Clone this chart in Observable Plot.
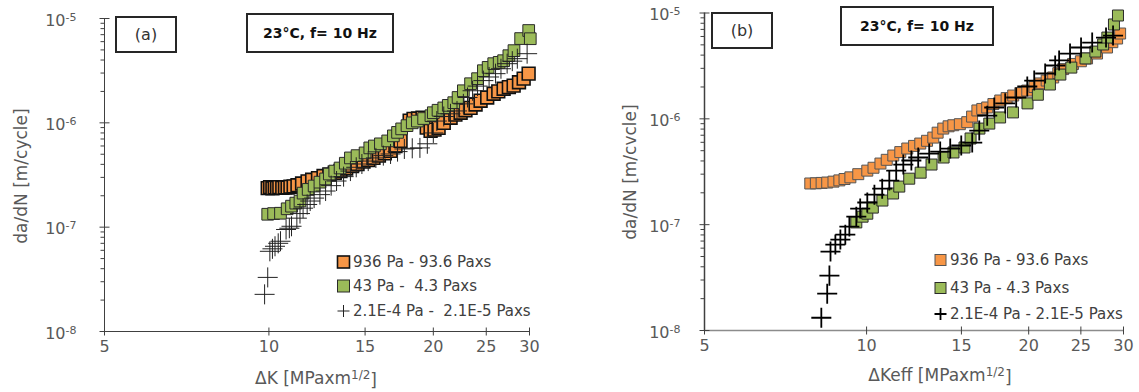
<!DOCTYPE html>
<html><head><meta charset="utf-8">
<script src="https://cdn.jsdelivr.net/npm/d3@7"></script>
<script src="https://cdn.jsdelivr.net/npm/@observablehq/plot@0.6"></script>
<style>
body{margin:0;background:#fff;}
#wrap{display:flex;width:1139px;height:392px;overflow:hidden;}
#wrap svg{overflow:visible;}
</style></head><body><div id="wrap"></div>
<script>
// ---------- axis ticks ----------
const xTicks = [5, 10, 15, 20, 25, 30];
const yExp = [-8, -7, -6, -5];
const yMajor = [1e-8, 1e-7, 1e-6, 1e-5];
const yMinor = [-8, -7, -6].flatMap(e => [2,3,4,5,6,7,8,9].map(m => m * Math.pow(10, e)));

// ---------- legend ----------
const seriesNamesA = ["936 Pa - 93.6 Paxs", "43 Pa -  4.3 Paxs", "2.1E-4 Pa -  2.1E-5 Paxs"];
const seriesNamesB = ["936 Pa - 93.6 Paxs", "43 Pa - 4.3 Paxs", "2.1E-4 Pa - 2.1E-5 Paxs"];
const ORANGE = "#F79646", GREEN = "#9BBB59";

// ---------- panel (a): da/dN vs ΔK ----------
const aOrangeK = [9.95,10.05,10.15,10.25,10.35,10.45,10.58,10.70,10.82,10.95,11.10,11.28,11.50,11.77,12.00,12.30,12.59,12.90,13.20,13.52,13.85,14.20,14.53,14.90,15.20,15.54,15.90,16.30,16.70,17.05,17.42,18.10,18.40,18.75,19.11,19.45,19.77,20.10,20.45,20.90,21.51,21.95,22.44,22.90,23.40,23.90,24.41,25.10,25.79,26.30,26.90,27.50,28.06,28.70,29.27,29.89];
const aOrangeV = [2.37e-7,2.42e-7,2.36e-7,2.40e-7,2.38e-7,2.42e-7,2.38e-7,2.41e-7,2.40e-7,2.44e-7,2.46e-7,2.52e-7,2.62e-7,2.75e-7,2.85e-7,2.95e-7,3.09e-7,3.20e-7,3.32e-7,3.45e-7,3.65e-7,3.85e-7,4.03e-7,4.25e-7,4.40e-7,4.61e-7,4.85e-7,5.10e-7,5.38e-7,6.00e-7,6.71e-7,1.05e-6,1.09e-6,1.10e-6,1.12e-6,9.0e-7,8.37e-7,8.60e-7,8.95e-7,1.0e-6,1.12e-6,1.20e-6,1.25e-6,1.32e-6,1.39e-6,1.50e-6,1.63e-6,1.75e-6,1.90e-6,2.00e-6,2.12e-6,2.20e-6,2.27e-6,2.45e-6,2.65e-6,2.96e-6];
const aGreenK = [9.95,10.20,10.50,10.80,11.00,11.20,11.40,11.55,11.80,12.10,12.40,12.70,12.90,13.20,13.50,13.80,14.10,14.50,15.00,15.30,15.60,16.00,16.50,16.90,17.20,17.50,17.90,18.30,18.70,19.20,19.80,20.00,20.40,20.90,21.30,21.80,22.20,22.70,23.40,24.10,24.70,25.20,25.80,26.40,26.90,27.50,28.10,28.90,29.90,30.10];
const aGreenV = [1.33e-7,1.35e-7,1.36e-7,1.50e-7,1.59e-7,1.70e-7,1.78e-7,2.12e-7,2.30e-7,2.48e-7,2.70e-7,2.90e-7,3.23e-7,3.45e-7,3.69e-7,4.10e-7,4.61e-7,4.85e-7,5.15e-7,5.75e-7,6.00e-7,6.29e-7,6.71e-7,7.50e-7,8.10e-7,8.75e-7,9.40e-7,1.00e-6,1.04e-6,1.10e-6,1.17e-6,1.25e-6,1.32e-6,1.39e-6,1.47e-6,1.56e-6,1.75e-6,2.03e-6,2.37e-6,2.65e-6,3.16e-6,3.40e-6,3.69e-6,3.80e-6,3.94e-6,4.40e-6,4.92e-6,6.42e-6,7.67e-6,6.40e-6];
const aPlusK = [9.82,9.95,10.04,10.15,10.26,10.40,10.50,10.75,10.90,11.00,11.25,11.40,11.55,11.75,11.90,12.10,12.40,12.70,13.00,13.30,13.70,14.10,14.45,14.80,15.20,15.70,16.20,16.70,17.20,17.70,18.30,18.90,19.50,20.00,20.30,20.90,21.50,22.10,22.70,23.10,23.60,24.10,24.70,25.30,26.00,26.60,27.30,27.90,28.50,29.70];
const aPlusV = [2.27e-8,3.30e-8,5.87e-8,6.20e-8,6.56e-8,7.00e-8,7.33e-8,9.50e-8,9.77e-8,1.02e-7,1.22e-7,1.35e-7,1.52e-7,1.65e-7,1.78e-7,1.90e-7,2.05e-7,2.22e-7,2.50e-7,2.77e-7,3.05e-7,3.45e-7,3.75e-7,4.03e-7,4.30e-7,4.61e-7,4.85e-7,5.03e-7,5.30e-7,5.62e-7,5.70e-7,5.75e-7,6.30e-7,8.00e-7,1.04e-6,1.15e-6,1.22e-6,1.30e-6,1.52e-6,1.75e-6,2.03e-6,2.25e-6,2.54e-6,2.75e-6,2.96e-6,3.30e-6,3.69e-6,3.90e-6,4.12e-6,4.60e-6];

// ---------- panel (b): da/dN vs ΔKeff ----------
const bOrangeK = [7.86,8.05,8.25,8.45,8.68,8.90,9.10,9.33,9.65,10.03,10.30,10.61,10.90,11.21,11.55,11.90,12.25,12.58,12.95,13.30,13.55,13.88,14.20,14.49,14.90,15.38,15.70,16.06,16.40,16.75,17.20,17.71,18.20,18.72,19.30,19.88,20.50,21.02,21.60,22.21,22.70,23.18,24.18,25.00,25.67,26.79,27.96,28.60,29.19,29.57];
const bOrangeV = [2.45e-7,2.46e-7,2.48e-7,2.50e-7,2.55e-7,2.62e-7,2.70e-7,2.80e-7,3.00e-7,3.24e-7,3.45e-7,3.78e-7,4.10e-7,4.50e-7,4.85e-7,5.24e-7,5.55e-7,5.84e-7,6.20e-7,6.65e-7,7.40e-7,8.09e-7,8.50e-7,8.70e-7,8.90e-7,9.30e-7,1.05e-6,1.20e-6,1.24e-6,1.28e-6,1.38e-6,1.49e-6,1.57e-6,1.66e-6,1.75e-6,1.85e-6,2.00e-6,2.16e-6,2.30e-6,2.46e-6,2.70e-6,2.95e-6,3.30e-6,3.50e-6,3.72e-6,4.14e-6,4.72e-6,5.30e-6,5.74e-6,6.40e-6];
const bGreenK = [9.57,9.83,10.03,10.27,10.70,11.20,11.50,12.00,12.60,13.20,13.90,14.50,15.20,15.60,16.20,16.90,17.70,18.70,19.90,20.80,21.90,22.90,24.00,25.50,26.60,27.50,28.00,28.80,29.30];
const bGreenV = [1.05e-7,1.19e-7,1.27e-7,1.45e-7,1.69e-7,1.97e-7,2.29e-7,2.72e-7,3.10e-7,3.70e-7,4.31e-7,4.81e-7,5.36e-7,6.52e-7,8.09e-7,9.02e-7,1.03e-6,1.15e-6,1.40e-6,1.69e-6,2.11e-6,2.62e-6,3.05e-6,3.72e-6,4.32e-6,5.04e-6,5.86e-6,7.79e-6,9.47e-6];
const bPlusK = [8.24,8.45,8.53,8.57,8.75,8.94,9.13,9.29,9.57,9.73,10.03,10.34,10.69,11.02,11.35,11.70,12.11,12.47,13.07,13.70,14.30,14.99,15.71,16.19,16.75,17.26,18.09,18.96,19.88,20.48,21.46,22.40,22.78,23.87,25.02,26.24,27.84,28.69];
const bPlusV = [1.32e-8,2.23e-8,3.30e-8,5.57e-8,6.49e-8,7.23e-8,8.05e-8,9.59e-8,1.19e-7,1.42e-7,1.62e-7,1.92e-7,2.19e-7,2.61e-7,3.24e-7,3.70e-7,4.04e-7,4.31e-7,4.70e-7,4.91e-7,5.24e-7,5.60e-7,5.97e-7,7.75e-7,1.07e-6,1.28e-6,1.40e-6,1.59e-6,2.02e-6,2.30e-6,2.68e-6,3.19e-6,3.56e-6,4.14e-6,4.72e-6,5.26e-6,5.86e-6,6.12e-6];

const FONT = "DejaVu Sans, sans-serif";
const hTick = (x0, x1) => ({draw(ctx){ ctx.moveTo(x0, 0); ctx.lineTo(x1, 0); }});
const vTick = (y0, y1) => ({draw(ctx){ ctx.moveTo(0, y0); ctx.lineTo(0, y1); }});

function panel(o) {
  const svg = Plot.plot({
    width: o.width, height: 392,
    marginLeft: o.ml, marginRight: o.mr, marginTop: o.mt, marginBottom: o.mb,
    style: {background: "white", fontFamily: FONT, overflow: "visible"},
    x: {type: "log", domain: [5, 30], axis: null},
    y: {type: "log", domain: [1e-8, 1e-5], axis: null},
    marks: [
      Plot.ruleX([5], {stroke: "#404040", strokeWidth: o.yAxisW}),
      Plot.ruleY([1e-8], {stroke: o.xAxisC, strokeWidth: o.xAxisW}),
      Plot.dot(yMinor, {y: d => d, frameAnchor: "left", symbol: hTick(-4, 0), stroke: "#404040", fill: "none", strokeWidth: 1}),
      Plot.dot(yMajor, {y: d => d, frameAnchor: "left", symbol: hTick(-5, 5), stroke: "#404040", fill: "none", strokeWidth: 1}),
      Plot.dot(xTicks, {x: d => d, frameAnchor: "bottom", symbol: vTick(-4, 4), stroke: "#404040", fill: "none", strokeWidth: 1}),
      Plot.text(xTicks, {x: d => d, frameAnchor: "bottom", dy: 20, text: d => String(d), fontSize: 16, fill: "#595959"}),
      Plot.text(yExp, {y: e => Math.pow(10, e), frameAnchor: "left", dx: o.yLabDx, dy: 2, textAnchor: "end", text: e => "10^" + e, fontSize: 16, fill: "#595959"}),
      Plot.dot(d3.zip(o.orK, o.orV), {x: d => d[0], y: d => d[1], symbol: "square", r: o.rOr, fill: ORANGE, stroke: o.orStroke, strokeWidth: o.orSW}),
      Plot.dot(d3.zip(o.grK, o.grV), {x: d => d[0], y: d => d[1], symbol: "square", r: o.rGr, fill: GREEN, stroke: "#2a2a2a", strokeWidth: 1}),
      Plot.dot(d3.zip(o.plK, o.plV), {x: d => d[0], y: d => d[1], symbol: "plus", r: 6.5, fill: "none", stroke: o.plC, strokeWidth: o.plSW})
    ]
  });
  const s = d3.select(svg);
  // superscript exponents on y tick labels
  s.selectAll("text").each(function() {
    const t = this.textContent;
    if (t.startsWith("10^")) {
      const sel = d3.select(this); sel.text(null);
      sel.append("tspan").text("10");
      sel.append("tspan").attr("dy", "-0.45em").attr("font-size", "11px").text(t.slice(3));
    }
  });
  const g = s.append("g").attr("font-family", FONT).attr("text-anchor", "start");
  // y axis title
  g.append("text").attr("transform", `translate(${o.ytX},${o.ytY}) rotate(-90)`)
    .attr("text-anchor", "middle").attr("dominant-baseline", "central")
    .attr("font-size", 17).attr("fill", "#595959").text(o.yTitle);
  // x axis title with superscript
  const xt = g.append("text").attr("x", o.xtX).attr("y", o.xtY).attr("text-anchor", "middle")
    .attr("font-size", 17).attr("fill", "#595959");
  xt.append("tspan").text(o.xTitle + " [MPaxm");
  xt.append("tspan").attr("dy", "-0.45em").attr("font-size", "12px").text("1/2");
  xt.append("tspan").attr("dy", "0.45em").text("]");
  // boxes
  function box(b, txt, bold, fs) {
    g.append("rect").attr("x", b[0]).attr("y", b[1]).attr("width", b[2] - b[0]).attr("height", b[3] - b[1])
      .attr("fill", "white").attr("stroke", "#262626").attr("stroke-width", 2);
    g.append("text").attr("x", (b[0] + b[2]) / 2).attr("y", (b[1] + b[3]) / 2)
      .attr("text-anchor", "middle").attr("dominant-baseline", "central")
      .attr("font-size", fs).attr("font-weight", bold ? "bold" : "normal")
      .attr("fill", bold ? "#111" : "#333").text(txt);
  }
  box(o.labBox, o.lab, false, 16);
  box(o.condBox, "23°C, f= 10 Hz", true, 14);
  // legend
  const lg = g.append("g").attr("font-size", 15).attr("fill", "#404040").attr("text-anchor", "start");
  const fills = [ORANGE, GREEN];
  o.names.forEach((name, i) => {
    const cy = o.legY[i], cx = o.legX, hs = o.legSq / 2;
    if (i < 2) {
      lg.append("rect").attr("x", cx - hs).attr("y", cy - hs).attr("width", o.legSq).attr("height", o.legSq)
        .attr("fill", fills[i]).attr("stroke", i === 0 ? o.orStroke : "#2a2a2a").attr("stroke-width", i === 0 ? o.orSW : 1);
    } else {
      lg.append("path").attr("d", `M${cx - 6},${cy}H${cx + 6}M${cx},${cy - 6}V${cy + 6}`)
        .attr("stroke", o.plC).attr("stroke-width", o.plSW).attr("fill", "none");
    }
    lg.append("text").attr("x", o.legTx).attr("y", cy).attr("dominant-baseline", "central")
      .attr("text-anchor", "start").style("white-space", "pre").attr("xml:space", "preserve").text(name);
  });
  return svg;
}

const wrap = document.getElementById("wrap");
wrap.appendChild(panel({
  width: 570, ml: 104, mr: 41, mt: 18, mb: 61,
  yAxisW: 1, xAxisC: "#404040", xAxisW: 1, yLabDx: -28,
  orK: aOrangeK, orV: aOrangeV, grK: aGreenK, grV: aGreenV, plK: aPlusK, plV: aPlusV,
  rOr: 7.2, rGr: 6.6, orStroke: "#111", orSW: 1.6, plC: "#222", plSW: 1,
  yTitle: "da/dN [m/cycle]", ytX: 21, ytY: 176, xTitle: "ΔK", xtX: 316, xtY: 384,
  lab: "(a)", labBox: [116, 17, 176, 52], condBox: [247, 14, 393, 52],
  names: seriesNamesA, legX: 343.5, legY: [262, 286, 311], legSq: 12, legTx: 353
}));
wrap.appendChild(panel({
  width: 569, ml: 134, mr: 16, mt: 12.5, mb: 62,
  yAxisW: 1.5, xAxisC: "#8c8c8c", xAxisW: 1.5, yLabDx: -24,
  orK: bOrangeK, orV: bOrangeV, grK: bGreenK, grV: bGreenV, plK: bPlusK, plV: bPlusV,
  rOr: 6.2, rGr: 6.2, orStroke: "#555", orSW: 1, plC: "#000", plSW: 1.8,
  yTitle: "da/dN [m/cvcle]", ytX: 60, ytY: 172, xTitle: "ΔKeff", xtX: 370, xtY: 381,
  lab: "(b)", labBox: [142, 13, 202, 48], condBox: [271, 7, 423, 45],
  names: seriesNamesB, legX: 370.5, legY: [260, 288, 314], legSq: 11, legTx: 380
}));
</script></body></html>
